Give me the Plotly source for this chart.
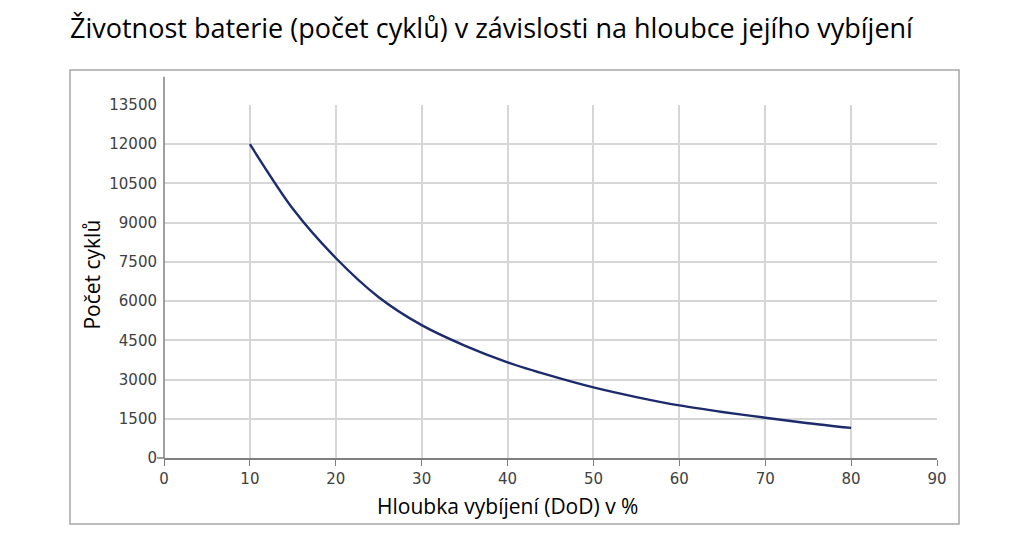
import plotly.graph_objects as go

# data
dod = [10, 15, 20, 25, 30, 35, 40, 45, 50, 55, 60, 65, 70, 75, 80]
cycles = [12000, 9530, 7650, 6150, 5080, 4300, 3660, 3150, 2700, 2330, 2010, 1760, 1540, 1330, 1150]

x_ticks = list(range(0, 100, 10))
y_ticks = list(range(0, 15000, 1500))

title_text = "Životnost baterie (počet cyklů) v závislosti na hloubce jejího vybíjení"
x_title = "Hloubka vybíjení (DoD) v %"
y_title = "Počet cyklů"

label_font = "Open Sans, sans-serif"
tick_font = dict(family="DejaVu Sans, sans-serif", size=15, color="#404040")

fig = go.Figure()

fig.add_trace(go.Scatter(
    x=dod, y=cycles, mode="lines",
    line=dict(color="#1c2b6b", width=2.4, shape="spline", smoothing=0.8),
    showlegend=False, hoverinfo="x+y"
))

# page body has an 8px margin, so the figure is a bit smaller than the window
fig.update_layout(
    width=1008, height=530,
    paper_bgcolor="white", plot_bgcolor="white",
    margin=dict(l=156, r=79, t=97, b=80),
    xaxis=dict(
        range=[0, 90], tickvals=x_ticks, ticks="outside", ticklen=6,
        tickcolor="#7f7f7f", showline=True, linecolor="#7f7f7f", linewidth=1.5,
        showgrid=True, gridcolor="#d6d6d6", gridwidth=2,
        tickfont=tick_font, zeroline=False, fixedrange=True,
    ),
    yaxis=dict(
        range=[0, 13500], tickvals=y_ticks, tickformat="d", ticks="",
        ticklabelstandoff=6,
        showline=False, showgrid=True, gridcolor="#d6d6d6", gridwidth=2,
        tickfont=tick_font, zeroline=False, fixedrange=True,
    ),
    annotations=[
        dict(text=title_text, xref="paper", yref="paper", x=-0.124, y=1.22,
             xanchor="left", yanchor="middle", showarrow=False,
             font=dict(family=label_font, size=27, color="black")),
        dict(text=x_title, xref="paper", yref="paper", x=0.445, y=-0.137,
             xanchor="center", yanchor="middle", showarrow=False,
             font=dict(family=label_font, size=21, color="black")),
        dict(text=y_title, xref="paper", yref="paper", x=-0.093, y=0.52,
             xanchor="center", yanchor="middle", showarrow=False, textangle=-90,
             font=dict(family=label_font, size=21, color="black")),
    ],
    shapes=[
        # outer frame
        dict(type="rect", xref="paper", yref="paper", x0=-0.1216, x1=1.0285,
             y0=-0.187, y1=1.099, line=dict(color="#a6a6a6", width=1.5)),
        # y axis line, reaching above the top gridline
        dict(type="line", xref="paper", yref="paper", x0=0, x1=0,
             y0=0, y1=1.08, line=dict(color="#7f7f7f", width=1.5)),
        # small stub left of the origin
        dict(type="line", xref="paper", yref="paper", x0=-0.009, x1=0,
             y0=0, y1=0, line=dict(color="#7f7f7f", width=1.5)),
    ],
)

fig.write_html("out.html")
